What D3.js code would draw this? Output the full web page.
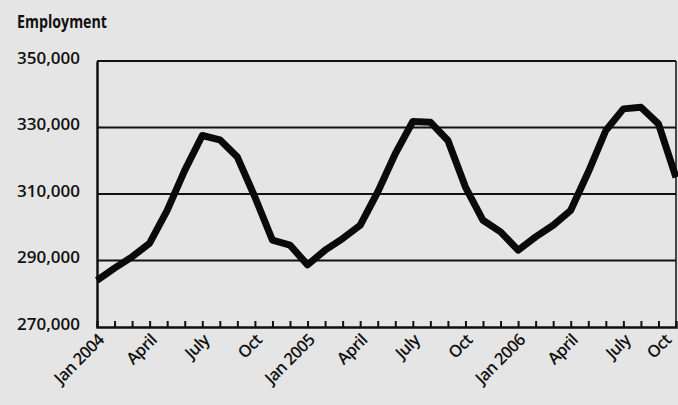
<!DOCTYPE html>
<html>
<head>
<meta charset="utf-8">
<script src="https://cdn.jsdelivr.net/npm/d3@7"></script>
<style>
  html, body { margin: 0; padding: 0; background: #e5e5e5; }
  svg { display: block; }
  text { font-family: "Open Sans", "DejaVu Sans", sans-serif; fill: #111; }
</style>
</head>
<body>
<svg id="chart" width="678" height="405"></svg>
<script>
// ---- data ----
const months = [
  "Jan 2004","Feb 2004","Mar 2004","Apr 2004","May 2004","Jun 2004","Jul 2004","Aug 2004","Sep 2004","Oct 2004","Nov 2004","Dec 2004",
  "Jan 2005","Feb 2005","Mar 2005","Apr 2005","May 2005","Jun 2005","Jul 2005","Aug 2005","Sep 2005","Oct 2005","Nov 2005","Dec 2005",
  "Jan 2006","Feb 2006","Mar 2006","Apr 2006","May 2006","Jun 2006","Jul 2006","Aug 2006","Sep 2006","Oct 2006"
];
const employment = [
  284000, 287700, 291100, 295200, 305100, 317100, 327600, 326300, 321100, 309100, 296100, 294600,
  288700, 293100, 296600, 300600, 310600, 322100, 331800, 331600, 326100, 312100, 302100, 298600,
  293100, 297100, 300600, 305100, 316600, 329100, 335600, 336100, 331100, 315000
];
const yTicks = [270000, 290000, 310000, 330000, 350000];
const xLabelIndex = [0, 3, 6, 9, 12, 15, 18, 21, 24, 27, 30, 33];
const xLabels = ["Jan 2004","April","July","Oct","Jan 2005","April","July","Oct","Jan 2006","April","July","Oct"];
const yTitle = "Employment";

// ---- layout ----
const svg = d3.select("#chart");
const mLeft = 97, mRight = 676, mTop = 61, mBottom = 327;

const x = d3.scaleLinear().domain([0, months.length - 1]).range([mLeft, mRight]);
const y = d3.scaleLinear().domain([270000, 350000]).range([mBottom, mTop]);

svg.append("rect").attr("width", 678).attr("height", 405).attr("fill", "#e5e5e5");

// gridlines
svg.append("g").selectAll("line").data(yTicks.slice(1)).join("line")
  .attr("x1", mLeft).attr("x2", mRight)
  .attr("y1", d => y(d)).attr("y2", d => y(d))
  .attr("stroke", "#111").attr("stroke-width", 2);

// right border
svg.append("line").attr("x1", mRight).attr("x2", mRight).attr("y1", mTop).attr("y2", mBottom)
  .attr("stroke", "#111").attr("stroke-width", 1.5);

// y axis
const yAxis = d3.axisLeft(y).tickValues(yTicks).tickSize(0).tickPadding(17)
  .tickFormat(d3.format(","));
const gy = svg.append("g").attr("transform", `translate(${mLeft},0)`).call(yAxis);
gy.select(".domain").attr("stroke", "#111").attr("stroke-width", 2.5);
gy.selectAll("text").attr("font-size", 15.5).attr("font-weight", 600)
  .attr("dy", "0.15em")
  .attr("textLength", 63).attr("lengthAdjust", "spacingAndGlyphs");

// x axis: minor ticks at each interior month
const tickIdx = d3.range(1, months.length - 1);
const xAxis = d3.axisBottom(x).tickValues(tickIdx).tickSize(-6).tickFormat("");
const gx = svg.append("g").attr("transform", `translate(0,${mBottom})`).call(xAxis);
gx.select(".domain").attr("stroke", "#111").attr("stroke-width", 2.5);
gx.selectAll(".tick line").attr("stroke", "#111").attr("stroke-width", 2);

// x labels
svg.append("g").selectAll("text").data(xLabelIndex).join("text")
  .attr("transform", d => `translate(${Math.min(x(d) + 4, 668)},${mBottom + 10}) rotate(-45)`)
  .attr("text-anchor", "end")
  .attr("dy", "0.35em")
  .attr("font-size", 16.5).attr("font-weight", 600).attr("letter-spacing", "-0.6px")
  .text((d, i) => xLabels[i]);

// title
svg.append("text").attr("x", 17).attr("y", 28)
  .attr("font-size", 17).attr("font-weight", 700)
  .attr("textLength", 90).attr("lengthAdjust", "spacingAndGlyphs")
  .text(yTitle);

// line
const line = d3.line().x((d, i) => x(i)).y(d => y(d));
svg.append("path").datum(employment)
  .attr("d", line)
  .attr("fill", "none").attr("stroke", "#0a0a0a").attr("stroke-width", 7)
  .attr("stroke-linejoin", "round").attr("stroke-linecap", "butt");
</script>
</body>
</html>
